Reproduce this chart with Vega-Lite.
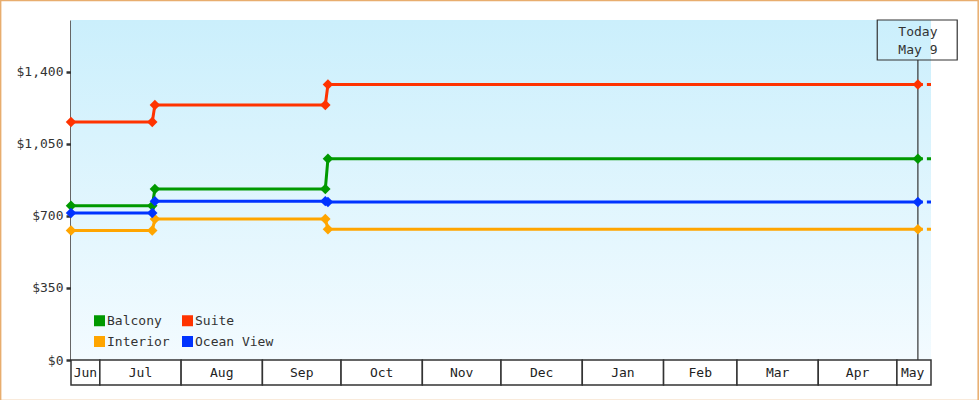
{
  "$schema": "https://vega.github.io/schema/vega-lite/v6.json",
  "width": 860,
  "height": 340,
  "autosize": {"type": "none"},
  "padding": {"left": 71, "top": 20, "right": 49, "bottom": 40},
  "background": "white",
  "config": {
    "view": {"stroke": null},
    "font": "DejaVu Sans Mono",
    "axis": {"labelFont": "DejaVu Sans Mono", "labelFontSize": 13, "labelColor": "#333333"},
    "legend": {"labelFont": "DejaVu Sans Mono", "labelFontSize": 13, "labelColor": "#333333"}
  },
  "datasets": {
    "prices": [
      {"cabin": "Balcony", "date": "2024-06-20", "price": 749},
      {"cabin": "Balcony", "date": "2024-07-21", "price": 749},
      {"cabin": "Balcony", "date": "2024-07-22", "price": 830},
      {"cabin": "Balcony", "date": "2024-09-25", "price": 830},
      {"cabin": "Balcony", "date": "2024-09-26", "price": 977},
      {"cabin": "Balcony", "date": "2025-05-09", "price": 977},
      {"cabin": "Suite", "date": "2024-06-20", "price": 1155},
      {"cabin": "Suite", "date": "2024-07-21", "price": 1155},
      {"cabin": "Suite", "date": "2024-07-22", "price": 1238},
      {"cabin": "Suite", "date": "2024-09-25", "price": 1238},
      {"cabin": "Suite", "date": "2024-09-26", "price": 1337},
      {"cabin": "Suite", "date": "2025-05-09", "price": 1337},
      {"cabin": "Interior", "date": "2024-06-20", "price": 629},
      {"cabin": "Interior", "date": "2024-07-21", "price": 629},
      {"cabin": "Interior", "date": "2024-07-22", "price": 684},
      {"cabin": "Interior", "date": "2024-09-25", "price": 684},
      {"cabin": "Interior", "date": "2024-09-26", "price": 635},
      {"cabin": "Interior", "date": "2025-05-09", "price": 635},
      {"cabin": "Ocean View", "date": "2024-06-20", "price": 713},
      {"cabin": "Ocean View", "date": "2024-07-21", "price": 713},
      {"cabin": "Ocean View", "date": "2024-07-22", "price": 771},
      {"cabin": "Ocean View", "date": "2024-09-25", "price": 771},
      {"cabin": "Ocean View", "date": "2024-09-26", "price": 767},
      {"cabin": "Ocean View", "date": "2025-05-09", "price": 767}
    ],
    "future": [
      {"cabin": "Balcony", "date": "2025-05-09", "price": 977},
      {"cabin": "Balcony", "date": "2025-05-14", "price": 977},
      {"cabin": "Suite", "date": "2025-05-09", "price": 1337},
      {"cabin": "Suite", "date": "2025-05-14", "price": 1337},
      {"cabin": "Interior", "date": "2025-05-09", "price": 635},
      {"cabin": "Interior", "date": "2025-05-14", "price": 635},
      {"cabin": "Ocean View", "date": "2025-05-09", "price": 767},
      {"cabin": "Ocean View", "date": "2025-05-14", "price": 767}
    ],
    "months": [
      {"month": "Jun", "start": "2024-06-20", "end": "2024-07-01", "mid": "2024-06-25T12:00:00Z"},
      {"month": "Jul", "start": "2024-07-01", "end": "2024-08-01", "mid": "2024-07-16T12:00:00Z"},
      {"month": "Aug", "start": "2024-08-01", "end": "2024-09-01", "mid": "2024-08-16T12:00:00Z"},
      {"month": "Sep", "start": "2024-09-01", "end": "2024-10-01", "mid": "2024-09-16T00:00:00Z"},
      {"month": "Oct", "start": "2024-10-01", "end": "2024-11-01", "mid": "2024-10-16T12:00:00Z"},
      {"month": "Nov", "start": "2024-11-01", "end": "2024-12-01", "mid": "2024-11-16T00:00:00Z"},
      {"month": "Dec", "start": "2024-12-01", "end": "2025-01-01", "mid": "2024-12-16T12:00:00Z"},
      {"month": "Jan", "start": "2025-01-01", "end": "2025-02-01", "mid": "2025-01-16T12:00:00Z"},
      {"month": "Feb", "start": "2025-02-01", "end": "2025-03-01", "mid": "2025-02-15T00:00:00Z"},
      {"month": "Mar", "start": "2025-03-01", "end": "2025-04-01", "mid": "2025-03-16T12:00:00Z"},
      {"month": "Apr", "start": "2025-04-01", "end": "2025-05-01", "mid": "2025-04-16T00:00:00Z"},
      {"month": "May", "start": "2025-05-01", "end": "2025-05-14", "mid": "2025-05-07T00:00:00Z"}
    ],
    "today": [
      {"date": "2025-05-09", "label": ["Today", "May 9"]}
    ]
  },
  "layer": [
    {
      "data": {"values": [{}]},
      "mark": {"type": "rect", "clip": false, "fill": null, "stroke": "#e8ad6e", "strokeWidth": 1.5},
      "encoding": {
        "x": {"datum": {"year": 2024, "month": 5, "date": 24, "hours": 4, "utc": true}, "type": "temporal",
              "scale": {"domain": [{"year": 2024, "month": 6, "date": 20, "utc": true}, {"year": 2025, "month": 5, "date": 14, "utc": true}]},
              "axis": null},
        "x2": {"datum": {"year": 2025, "month": 6, "date": 1, "utc": true}},
        "y": {"datum": 1745, "type": "quantitative", "scale": {"domain": [0, 1650], "nice": false, "zero": false}},
        "y2": {"datum": -196}
      }
    },
    {
      "data": {"values": [{}]},
      "mark": {"type": "rect", "fill": {"gradient": "linear", "x1": 0, "y1": 0, "x2": 0, "y2": 1,
        "stops": [{"offset": 0, "color": "#cbeffc"}, {"offset": 1, "color": "#f3fbff"}]}},
      "encoding": {
        "x": {"datum": {"year": 2024, "month": 6, "date": 20, "utc": true}, "type": "temporal"},
        "x2": {"datum": {"year": 2025, "month": 5, "date": 14, "utc": true}},
        "y": {"datum": 1650, "type": "quantitative",
              "axis": {"values": [0, 350, 700, 1050, 1400], "format": "$,d", "title": null, "grid": false,
                       "domainColor": "#333333", "domainWidth": 2.5, "tickColor": "#333333", "tickWidth": 2.5,
                       "tickSize": 5, "labelPadding": 3}},
        "y2": {"datum": 0}
      }
    },
    {
      "data": {"name": "months"},
      "mark": {"type": "rect", "clip": false, "fill": "white", "stroke": "#333333", "strokeWidth": 1.5},
      "encoding": {
        "x": {"field": "start", "type": "temporal"},
        "x2": {"field": "end"},
        "y": {"datum": 0, "type": "quantitative"},
        "y2": {"datum": -121}
      }
    },
    {
      "data": {"name": "months"},
      "mark": {"type": "text", "clip": false, "fontSize": 13, "color": "#222222", "baseline": "middle", "align": "center"},
      "encoding": {
        "x": {"field": "mid", "type": "temporal"},
        "y": {"datum": -63, "type": "quantitative"},
        "text": {"field": "month"}
      }
    },
    {
      "data": {"name": "today"},
      "mark": {"type": "rule", "color": "#333333", "strokeWidth": 1.2},
      "encoding": {
        "x": {"field": "date", "type": "temporal"},
        "y": {"datum": 0, "type": "quantitative"},
        "y2": {"datum": 1456}
      }
    },
    {
      "data": {"name": "today"},
      "mark": {"type": "rect", "clip": false, "fill": null, "stroke": "#333333", "strokeWidth": 1.2},
      "encoding": {
        "x": {"datum": {"year": 2025, "month": 4, "date": 23, "hours": 12, "utc": true}, "type": "temporal"},
        "x2": {"datum": {"year": 2025, "month": 5, "date": 24, "utc": true}},
        "y": {"datum": 1650, "type": "quantitative"},
        "y2": {"datum": 1456}
      }
    },
    {
      "data": {"name": "today"},
      "mark": {"type": "text", "clip": false, "fontSize": 13, "color": "#333333", "align": "center", "baseline": "middle", "lineHeight": 18},
      "encoding": {
        "x": {"field": "date", "type": "temporal"},
        "y": {"datum": 1592, "type": "quantitative"},
        "text": {"field": "label"}
      }
    },
    {
      "data": {"name": "future"},
      "mark": {"type": "line", "strokeWidth": 3, "strokeDash": [5, 4], "clip": true},
      "encoding": {
        "x": {"field": "date", "type": "temporal"},
        "y": {"field": "price", "type": "quantitative"},
        "color": {"field": "cabin", "type": "nominal"}
      }
    },
    {
      "data": {"name": "prices"},
      "mark": {"type": "line", "strokeWidth": 3},
      "encoding": {
        "x": {"field": "date", "type": "temporal"},
        "y": {"field": "price", "type": "quantitative"},
        "color": {"field": "cabin", "type": "nominal"}
      }
    },
    {
      "data": {"name": "prices"},
      "mark": {"type": "point", "shape": "diamond", "filled": true, "size": 110, "opacity": 1},
      "encoding": {
        "x": {"field": "date", "type": "temporal"},
        "y": {"field": "price", "type": "quantitative"},
        "color": {"field": "cabin", "type": "nominal",
                  "scale": {"domain": ["Balcony", "Suite", "Interior", "Ocean View"],
                            "range": ["#009900", "#ff3300", "#ffa500", "#0033ff"]},
                  "legend": {"title": null, "orient": "none", "legendX": 22, "legendY": 294,
                             "direction": "horizontal", "columns": 2, "symbolType": "square",
                             "symbolSize": 121, "symbolStrokeWidth": 0, "symbolOpacity": 1, "labelOffset": 1,
                             "columnPadding": 11, "rowPadding": 7, "padding": 0}}
      }
    }
  ]
}
